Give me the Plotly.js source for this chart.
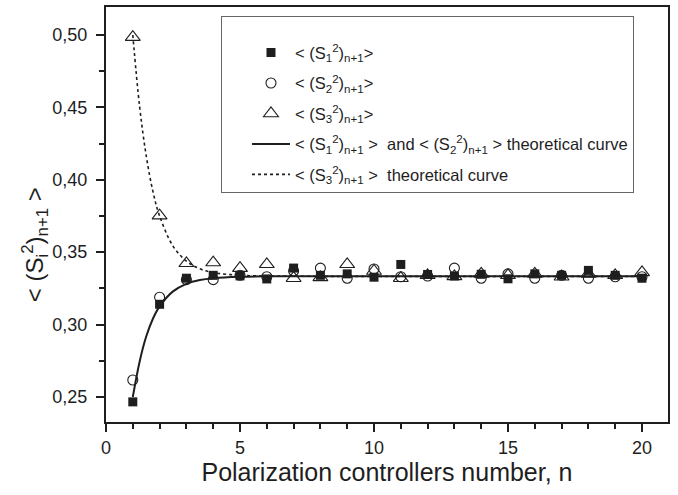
<!DOCTYPE html>
<html>
<head>
<meta charset="utf-8">
<script src="https://cdn.plot.ly/plotly-3.0.1.min.js"></script>
<style>html,body{margin:0;padding:0;background:#fff;}#chart{width:678px;height:495px;}</style>
</head>
<body>
<div id="chart"></div>
<script>
// Measured points, n = 1..20
const n = [1,2,3,4,5,6,7,8,9,10,11,12,13,14,15,16,17,18,19,20];
const s1 = [0.2466,0.3140,0.3320,0.3340,0.3336,0.3315,0.3390,0.3340,0.3350,0.3327,0.3415,0.3346,0.3335,0.3347,0.3316,0.3350,0.3340,0.3374,0.3340,0.3320];
const s2 = [0.2617,0.3189,0.3310,0.3310,0.3340,0.3330,0.3370,0.3390,0.3320,0.3384,0.3330,0.3335,0.3390,0.3320,0.3350,0.3320,0.3340,0.3320,0.3330,0.3330];
const s3 = [0.4985,0.3752,0.3423,0.3428,0.3390,0.3416,0.3320,0.3326,0.3416,0.3370,0.3320,0.3340,0.3333,0.3350,0.3340,0.3350,0.3330,0.3350,0.3340,0.3360];
// Theoretical curves
const nTh = [1,1.25,1.5,1.75,2,2.5,3,3.5,4,5,6,7,8,10,12,14,16,18,20];
const th12 = [0.2500,0.2740,0.2917,0.3040,0.3125,0.3229,0.3281,0.3307,0.3320,0.3330,0.3333,0.3333,0.3333,0.3333,0.3333,0.3333,0.3333,0.3333,0.3333];
const th3 = [0.5000,0.4512,0.4167,0.3920,0.3750,0.3542,0.3438,0.3385,0.3359,0.3340,0.3335,0.3334,0.3333,0.3333,0.3333,0.3333,0.3333,0.3333,0.3333];

const names = [
  '< (S<sub>1</sub><sup>2</sup>)<sub>n+1</sub>>',
  '< (S<sub>2</sub><sup>2</sup>)<sub>n+1</sub>>',
  '< (S<sub>3</sub><sup>2</sup>)<sub>n+1</sub>>',
  '< (S<sub>1</sub><sup>2</sup>)<sub>n+1</sub> >  and < (S<sub>2</sub><sup>2</sup>)<sub>n+1</sub> > theoretical curve',
  '< (S<sub>3</sub><sup>2</sup>)<sub>n+1</sub> >  theoretical curve'
];
const yTitle = '< (S<sub>i</sub><sup>2</sup>)<sub>n+1</sub> >';
const ink = '#1e1e1e';

const traces = [
  {x: nTh, y: th3, mode: 'lines', name: names[4], legendrank: 5, legendgroup: 'e',
   line: {color: ink, width: 1.6, dash: 'dot', shape: 'spline'}},
  {x: nTh, y: th12, mode: 'lines', name: names[3], legendrank: 4, legendgroup: 'd',
   line: {color: ink, width: 2, shape: 'spline'}},
  {x: n, y: s3, mode: 'markers', name: names[2], legendrank: 3, legendgroup: 'c',
   marker: {symbol: 'triangle-up-open', size: 13, color: ink, line: {width: 1.1, color: ink}}},
  {x: n, y: s2, mode: 'markers', name: names[1], legendrank: 2, legendgroup: 'b',
   marker: {symbol: 'circle-open', size: 10, color: ink, line: {width: 1.1, color: ink}}},
  {x: n, y: s1, mode: 'markers', name: names[0], legendrank: 1, legendgroup: 'a',
   marker: {symbol: 'square', size: 9, color: ink, line: {width: 0}}}
];

const layout = {
  width: 678, height: 495,
  margin: {l: 106, r: 10, t: 7, b: 73, pad: 0},
  paper_bgcolor: '#fff', plot_bgcolor: '#fff',
  separators: ', ',
  font: {family: 'Liberation Sans, Arial, sans-serif', color: ink, size: 17},
  showlegend: true,
  legend: {
    x: 0.2046, y: 0.978, xanchor: 'left', yanchor: 'top',
    bgcolor: '#fff', bordercolor: '#666', borderwidth: 1,
    font: {size: 16.5, color: ink},
    title: {text: ' ', font: {size: 14}},
    tracegroupgap: 6, indentation: 25, itemwidth: 38,
    entrywidth: 385, traceorder: 'grouped'
  },
  xaxis: {
    range: [0, 20.97], tickvals: [0,5,10,15,20], ticks: 'outside', ticklen: 8, tickwidth: 2,
    tickcolor: ink, showline: true, linecolor: ink, linewidth: 2, mirror: true,
    showgrid: false, zeroline: false,
    minor: {dtick: 1, tick0: 0, ticks: 'outside', ticklen: 5, tickwidth: 2, tickcolor: ink, showgrid: false},
    tickfont: {size: 18},
    title: {text: 'Polarization controllers number, n', font: {size: 25}, standoff: 6}
  },
  yaxis: {
    range: [0.2327, 0.5193], tickvals: [0.25,0.30,0.35,0.40,0.45,0.50], tickformat: '.2f',
    ticks: 'outside', ticklen: 8, tickwidth: 2, tickcolor: ink,
    showline: true, linecolor: ink, linewidth: 2, mirror: true,
    showgrid: false, zeroline: false, ticklabelstandoff: 5,
    minor: {dtick: 0.025, tick0: 0.225, ticks: 'outside', ticklen: 5, tickwidth: 2, tickcolor: ink, showgrid: false},
    tickfont: {size: 18}
  },
  annotations: [{
    text: yTitle, textangle: -90, xref: 'paper', yref: 'paper',
    x: -0.126, y: 0.4265, xanchor: 'center', yanchor: 'middle', showarrow: false,
    font: {size: 24, color: ink}
  }]
};

Plotly.newPlot('chart', traces, layout, {displayModeBar: false, staticPlot: true});
</script>
</body>
</html>
